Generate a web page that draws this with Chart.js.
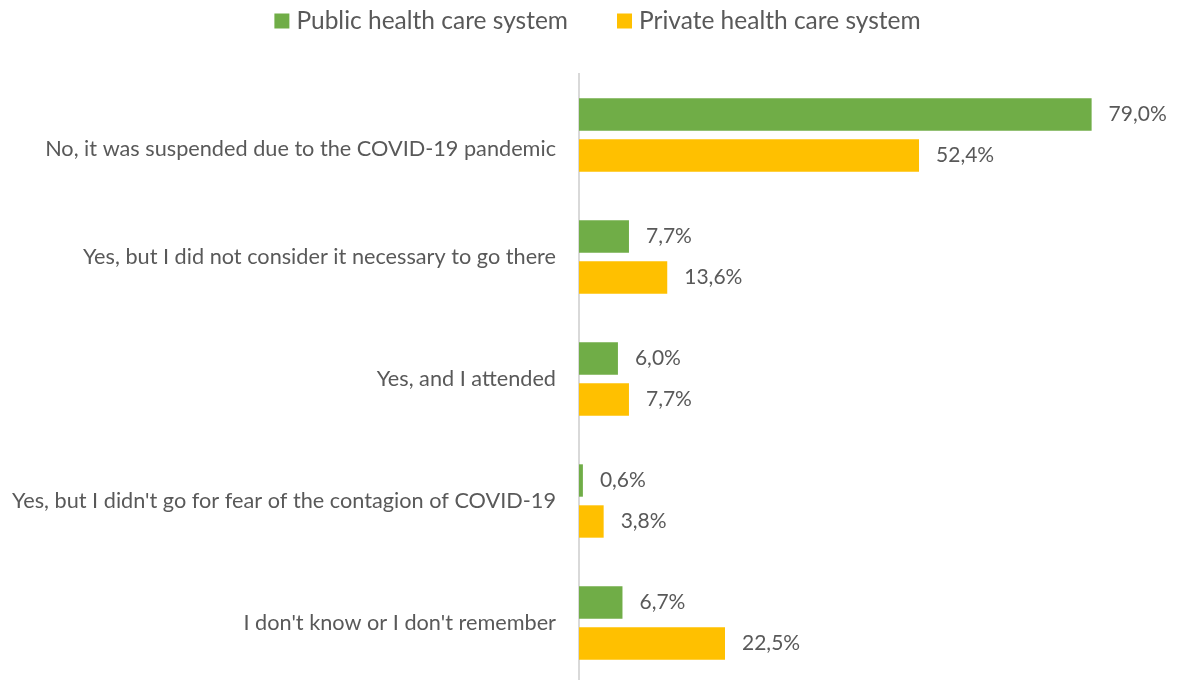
<!DOCTYPE html>
<html>
<head>
<meta charset="utf-8">
<script src="https://cdn.jsdelivr.net/npm/chart.js@4.4.1/dist/chart.umd.min.js"></script>
<style>
  html, body { margin: 0; padding: 0; background: #fff; overflow: hidden; }
  #chart { display: block; }
</style>
</head>
<body>
<canvas id="chart" width="1179" height="684"></canvas>
<script>
const categories = [
  "No, it was suspended due to the COVID-19 pandemic",
  "Yes, but I did not consider it necessary to go there",
  "Yes, and I attended",
  "Yes, but I didn't go for fear of the contagion of COVID-19",
  "I don't know or I don't remember",
];
const seriesNames = ["Public health care system", "Private health care system"];
const publicValues = [79.0, 7.7, 6.0, 0.6, 6.7];
const privateValues = [52.4, 13.6, 7.7, 3.8, 22.5];
const seriesColors = ["#70ad47", "#ffc000"];

const FONT = "Lato, 'Open Sans', sans-serif";
const TEXT = "#595959";

// first category label sits a little below its bar pair
const axisLabels = categories.map((c, i) => (i === 0 ? ["", c] : c));

// value labels after the end of each bar, decimal comma
const valueLabels = {
  id: "valueLabels",
  afterDatasetsDraw(chart) {
    const { ctx } = chart;
    ctx.save();
    ctx.font = `21px ${FONT}`;
    ctx.fillStyle = TEXT;
    ctx.textAlign = "left";
    ctx.textBaseline = "middle";
    chart.data.datasets.forEach((ds, i) => {
      chart.getDatasetMeta(i).data.forEach((bar, j) => {
        ctx.fillText(ds.data[j].toFixed(1).replace(".", ",") + "%", bar.x + 17, bar.y);
      });
    });
    ctx.restore();
  },
};

// legend row at the top
const topLegend = {
  id: "topLegend",
  afterDraw(chart) {
    const { ctx } = chart;
    ctx.save();
    ctx.font = `24.5px ${FONT}`;
    ctx.textBaseline = "middle";
    const box = 15, gapBox = 7, gapItem = 49;
    const items = chart.data.datasets.map((ds) => ({
      label: ds.label, color: ds.backgroundColor, w: ctx.measureText(ds.label).width,
    }));
    const total = items.reduce((s, it) => s + box + gapBox + it.w, 0) + gapItem * (items.length - 1);
    let x = chart.width / 2 + 8 - total / 2;
    const y = 21;
    items.forEach((it) => {
      ctx.fillStyle = it.color;
      ctx.fillRect(x, y - box / 2, box, box);
      x += box + gapBox;
      ctx.fillStyle = TEXT;
      ctx.fillText(it.label, x, y);
      x += it.w + gapItem;
    });
    ctx.restore();
  },
};

new Chart(document.getElementById("chart"), {
  type: "bar",
  data: {
    labels: axisLabels,
    datasets: [
      { label: seriesNames[0], data: publicValues, backgroundColor: seriesColors[0] },
      { label: seriesNames[1], data: privateValues, backgroundColor: seriesColors[1] },
    ],
  },
  options: {
    indexAxis: "y",
    responsive: false,
    animation: false,
    categoryPercentage: 0.672,
    barPercentage: 0.79,
    layout: { padding: { top: 74, right: 16, bottom: 0, left: 0 } },
    scales: {
      x: { display: false, min: 0, max: 90 },
      y: {
        afterFit(scale) {
          scale.width = 579;
          scale.paddingTop = 0;
          scale.paddingBottom = 0;
        },
        grid: { display: false, drawTicks: false },
        border: { display: true, color: "#d9d9d9", width: 2 },
        ticks: { color: TEXT, padding: 23, font: { family: FONT, size: 21.7, lineHeight: 1.3 } },
      },
    },
    plugins: {
      legend: { display: false },
      tooltip: { enabled: false },
    },
  },
  plugins: [valueLabels, topLegend],
});
</script>
</body>
</html>
